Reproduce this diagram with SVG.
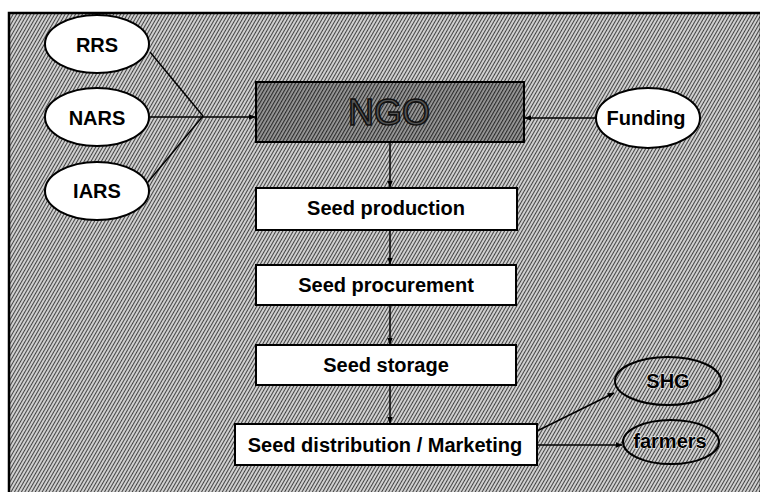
<svg xmlns="http://www.w3.org/2000/svg" width="760" height="492" viewBox="0 0 760 492">
<defs>
<pattern id="hatch" width="3" height="3" patternUnits="userSpaceOnUse" patternTransform="rotate(30)">
<rect width="3" height="3" fill="#cfcfcf"/>
<line x1="0.5" y1="0" x2="0.5" y2="3" stroke="#444" stroke-width="1"/>
</pattern>
<pattern id="hatchDark" width="3" height="3" patternUnits="userSpaceOnUse" patternTransform="rotate(30)">
<rect width="3" height="3" fill="#9a9a9a"/>
<line x1="0.5" y1="0" x2="0.5" y2="3" stroke="#2a2a2a" stroke-width="1.3"/>
</pattern>
<marker id="arr" viewBox="0 0 10 10" refX="9" refY="5" markerWidth="7" markerHeight="7" orient="auto" markerUnits="userSpaceOnUse">
<path d="M0,1 L10,5 L0,9 Z" fill="#000"/>
</marker>
</defs>
<style>
.lbl{font-family:"Liberation Sans",Arial,sans-serif;font-weight:bold;font-size:20px;fill:#000;text-anchor:middle}
.wbox{fill:#fff;stroke:#000;stroke-width:2}
.wov{fill:#fff;stroke:#000;stroke-width:2}
.gov{fill:url(#hatch);stroke:#000;stroke-width:2}
.con{stroke:#000;stroke-width:1.5;fill:none}
.outl{stroke:#fff;stroke-width:0.8;paint-order:stroke}
</style>
<rect x="9" y="13" width="752" height="482" fill="url(#hatch)" stroke="#000" stroke-width="2.5"/>
<g id="connectors">
<line class="con" x1="150" y1="52" x2="203" y2="116"/>
<line class="con" x1="148" y1="182" x2="203" y2="116"/>
<line class="con" x1="150" y1="117" x2="255" y2="117" marker-end="url(#arr)"/>
<line class="con" x1="596" y1="118" x2="525" y2="118" marker-end="url(#arr)"/>
<line class="con" x1="390" y1="142" x2="390" y2="187" marker-end="url(#arr)"/>
<line class="con" x1="390" y1="230" x2="390" y2="264" marker-end="url(#arr)"/>
<line class="con" x1="390" y1="305" x2="390" y2="344" marker-end="url(#arr)"/>
<line class="con" x1="390" y1="385" x2="390" y2="423" marker-end="url(#arr)"/>
<line class="con" x1="537" y1="431" x2="614" y2="393" marker-end="url(#arr)"/>
<line class="con" x1="537" y1="445" x2="622" y2="445" marker-end="url(#arr)"/>
</g>
<g id="rrs">
<ellipse class="wov" cx="97" cy="44" rx="52" ry="29"/>
<text class="lbl" x="97" y="52">RRS</text>
</g>
<g id="nars">
<ellipse class="wov" cx="97" cy="117" rx="52" ry="29"/>
<text class="lbl" x="97" y="125">NARS</text>
</g>
<g id="iars">
<ellipse class="wov" cx="97" cy="191" rx="52" ry="29"/>
<text class="lbl" x="97" y="198">IARS</text>
</g>
<g id="ngo">
<rect x="256" y="82" width="268" height="60" fill="url(#hatchDark)" stroke="#000" stroke-width="2"/>
<text x="389" y="125" font-family="Liberation Sans,Arial,sans-serif" font-size="36" text-anchor="middle" fill="#555" stroke="#111" stroke-width="1.6">NGO</text>
</g>
<g id="funding">
<ellipse class="wov" cx="648" cy="118" rx="52" ry="30"/>
<text class="lbl" x="646" y="125" font-size="21">Funding</text>
</g>
<g id="seed-production">
<rect class="wbox" x="256" y="188" width="261" height="42"/>
<text class="lbl" x="386" y="215">Seed production</text>
</g>
<g id="seed-procurement">
<rect class="wbox" x="256" y="265" width="260" height="40"/>
<text class="lbl" x="386" y="292">Seed procurement</text>
</g>
<g id="seed-storage">
<rect class="wbox" x="256" y="345" width="260" height="40"/>
<text class="lbl" x="386" y="372">Seed storage</text>
</g>
<g id="seed-distribution">
<rect class="wbox" x="235" y="424" width="302" height="41"/>
<text class="lbl" x="385" y="452">Seed distribution / Marketing</text>
</g>
<g id="shg">
<ellipse class="gov" cx="668" cy="381" rx="53" ry="24"/>
<text class="lbl outl" x="668" y="388" font-size="21">SHG</text>
</g>
<g id="farmers">
<ellipse class="gov" cx="671" cy="442" rx="48" ry="22"/>
<text class="lbl outl" x="670" y="448">farmers</text>
</g>
</svg>
